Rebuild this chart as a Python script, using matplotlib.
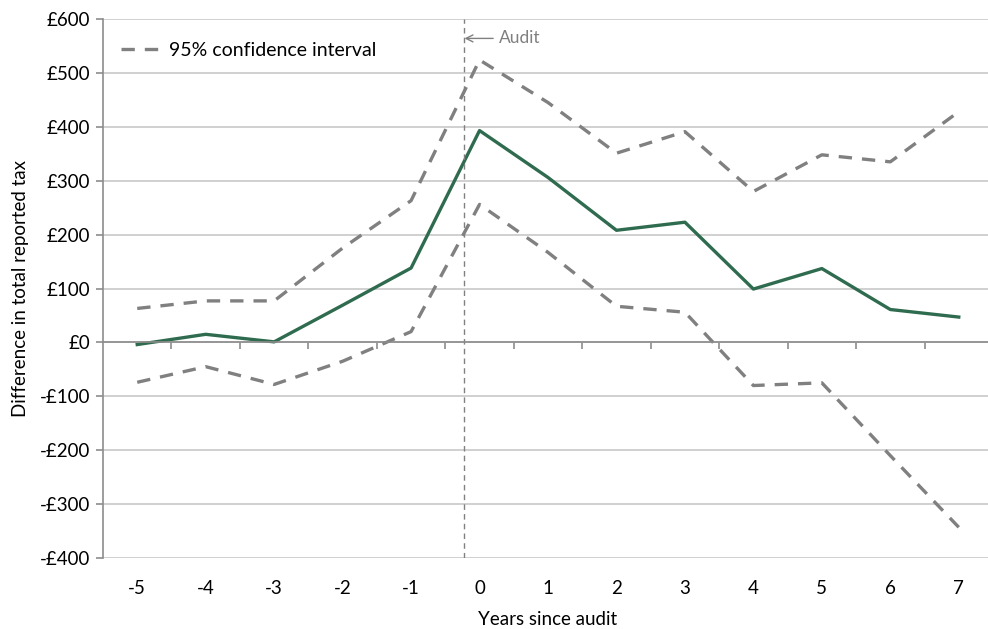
import matplotlib
matplotlib.use("Agg")
import matplotlib.pyplot as plt
import numpy as np

years = [-5, -4, -3, -2, -1, 0, 1, 2, 3, 4, 5, 6, 7]
estimate = [-4, 15, 1, 69, 138, 393, 306, 208, 223, 99, 137, 61, 47]
upper_ci = [63, 77, 77, 175, 263, 524, 445, 351, 391, 280, 348, 335, 428]
lower_ci = [-74, -45, -78, -35, 20, 256, 167, 67, 56, -80, -75, -210, -343]
yticks = [-400, -300, -200, -100, 0, 100, 200, 300, 400, 500, 600]
ytick_labels = ["-£400", "-£300", "-£200", "-£100", "£0", "£100", "£200", "£300", "£400", "£500", "£600"]
audit_x = -0.22

plt.rcParams['font.family'] = ['Lato', 'DejaVu Sans']

fig = plt.figure(figsize=(9.88, 6.29), dpi=100)
ax = fig.add_axes([103/988, 1-558/629, 890/988, (558-19)/629])

green = '#2F6B4F'
grey = '#808080'

ax.set_xlim(-5.5, 7.5)
ax.set_ylim(-400, 600)

ax.set_yticks(yticks)
ax.set_yticklabels(ytick_labels, fontsize=13.5, color='black')
ax.yaxis.grid(True, color='#C8C8C8', linewidth=1.2)
ax.set_axisbelow(True)

for s in ['top', 'right']:
    ax.spines[s].set_visible(False)
ax.spines['left'].set_color('#8C8C8C')
ax.spines['left'].set_linewidth(1.2)
ax.spines['bottom'].set_position(('data', 0))
ax.spines['bottom'].set_color('#8C8C8C')
ax.spines['bottom'].set_linewidth(1.2)
ax.tick_params(axis='y', direction='out', length=5, width=1.2, color='#8C8C8C', pad=4)

ax.set_xticks(np.arange(-4.5, 7.0, 1.0))
ax.set_xticklabels([])
ax.tick_params(axis='x', direction='out', length=5, width=1.2, color='#8C8C8C')

sec = ax.secondary_xaxis('bottom')
sec.set_xticks(years)
sec.set_xticklabels([str(y) for y in years], fontsize=13.5)
sec.tick_params(length=0, pad=16)
sec.spines['bottom'].set_visible(False)
sec.set_xlabel('Years since audit', fontsize=13.5, labelpad=10)

ax.set_ylabel('Difference in total reported tax', fontsize=13.5, labelpad=8)

ax.plot(years, upper_ci, color=grey, linewidth=2.4, linestyle=(0, (4, 3)), label='95% confidence interval', solid_capstyle='butt')
ax.plot(years, lower_ci, color=grey, linewidth=2.4, linestyle=(0, (4, 3)))
ax.plot(years, estimate, color=green, linewidth=2.4)

ax.axvline(audit_x, color=grey, linewidth=1.0, linestyle=(0, (4, 3)))
ax.annotate('Audit', xy=(audit_x, 564), xytext=(audit_x + 0.5, 564),
            fontsize=12.5, color=grey, va='center', ha='left',
            arrowprops=dict(arrowstyle='->', color=grey, lw=1.0, shrinkA=2, shrinkB=0))

leg = ax.legend(loc='upper left', bbox_to_anchor=(0.0, 0.99), frameon=False, fontsize=14,
                handlelength=2.2, handletextpad=0.3)

fig.savefig('out.png', dpi=100)
